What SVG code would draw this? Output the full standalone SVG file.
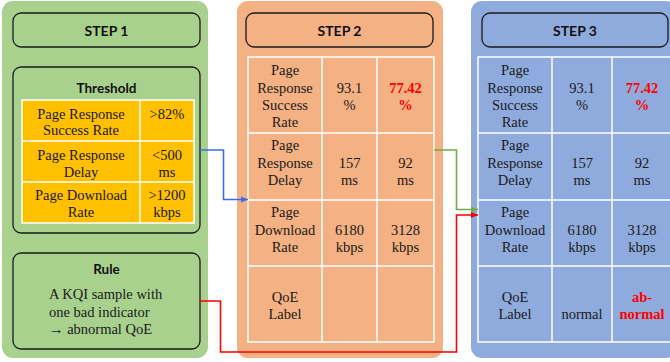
<svg xmlns="http://www.w3.org/2000/svg" width="670" height="362" viewBox="0 0 670 362">
  <defs>
    <style>
      .box { fill: none; stroke: #1a1a1a; stroke-width: 1.3; }
      .grid { fill: none; stroke: #ffffff; stroke-width: 1.5; }
      .head { font-family: Lato, 'Open Sans', sans-serif; font-weight: bold; font-size: 14px; fill: #111; text-anchor: middle; }
      .t { font-family: 'Liberation Serif', 'DejaVu Serif', serif; font-size: 14.5px; fill: #1a1a1a; text-anchor: middle; }
      .tl { font-family: 'Liberation Serif', 'DejaVu Serif', serif; font-size: 14.5px; fill: #1a1a1a; }
      .bad { fill: #ff0000; font-weight: bold; }
      .conn { fill: none; stroke-width: 1.6; }
    </style>
    <marker id="arrBlue" markerWidth="8" markerHeight="8" refX="7" refY="4" orient="auto" markerUnits="userSpaceOnUse">
      <path d="M0,1 L7,4 L0,7 Z" fill="#3d6bf0"/>
    </marker>
    <marker id="arrGreen" markerWidth="8" markerHeight="8" refX="7" refY="4" orient="auto" markerUnits="userSpaceOnUse">
      <path d="M0,1 L7,4 L0,7 Z" fill="#70ad47"/>
    </marker>
    <marker id="arrRed" markerWidth="8" markerHeight="8" refX="7" refY="4" orient="auto" markerUnits="userSpaceOnUse">
      <path d="M0,1 L7,4 L0,7 Z" fill="#ff0000"/>
    </marker>
  </defs>

  <!-- Step 1: thresholds and rule -->
  <g id="step1">
    <rect x="2" y="1" width="206" height="357" rx="11" fill="#a9d18e"/>
    <rect class="box" x="13" y="13" width="187" height="34" rx="8"/>
    <text class="head" x="106.5" y="36">STEP 1</text>
  </g>

  <g id="threshold">
    <rect class="box" x="13" y="67" width="187" height="166" rx="8"/>
    <text class="head" x="106.5" y="93" style="font-size:13.5px">Threshold</text>
    <rect x="22" y="100" width="172" height="123" fill="#ffc000"/>
    <g class="grid">
      <rect x="22" y="100" width="172" height="123"/>
      <line x1="140" y1="100" x2="140" y2="223"/>
      <line x1="22" y1="141" x2="194" y2="141"/>
      <line x1="22" y1="182" x2="194" y2="182"/>
    </g>
    <text class="t" x="81" y="119">Page Response</text>
    <text class="t" x="81" y="135">Success Rate</text>
    <text class="t" x="167" y="119">&gt;82%</text>
    <text class="t" x="81" y="160">Page Response</text>
    <text class="t" x="81" y="177">Delay</text>
    <text class="t" x="167" y="160">&lt;500</text>
    <text class="t" x="167" y="177">ms</text>
    <text class="t" x="81" y="200">Page Download</text>
    <text class="t" x="81" y="217">Rate</text>
    <text class="t" x="167" y="200">&gt;1200</text>
    <text class="t" x="167" y="217">kbps</text>
  </g>

  <g id="rule">
    <rect class="box" x="13" y="253" width="187" height="96" rx="8"/>
    <text class="head" x="106.5" y="274" style="font-size:13.5px">Rule</text>
    <text class="tl" x="49" y="299">A KQI sample with</text>
    <text class="tl" x="49" y="317">one bad indicator</text>
    <text class="tl" x="49" y="334">→ abnormal QoE</text>
  </g>

  <!-- Step 2: measured KQI sample -->
  <g id="step2">
    <rect x="237" y="1" width="206" height="357" rx="11" fill="#f4b183"/>
    <rect class="box" x="246" y="13" width="187" height="34" rx="8"/>
    <text class="head" x="339.5" y="36">STEP 2</text>
    <g class="grid">
      <rect x="248" y="57" width="186" height="285"/>
      <line x1="322" y1="57" x2="322" y2="342"/>
      <line x1="377" y1="57" x2="377" y2="342"/>
      <line x1="248" y1="133" x2="434" y2="133"/>
      <line x1="248" y1="200" x2="434" y2="200"/>
      <line x1="248" y1="266" x2="434" y2="266"/>
    </g>
    <text class="t" x="285" y="75">Page</text>
    <text class="t" x="285" y="92.5">Response</text>
    <text class="t" x="285" y="110">Success</text>
    <text class="t" x="285" y="127">Rate</text>
    <text class="t" x="349.5" y="92.5">93.1</text>
    <text class="t" x="349.5" y="110">%</text>
    <text class="t bad" x="405.5" y="92.5">77.42</text>
    <text class="t bad" x="405.5" y="110">%</text>
    <text class="t" x="285" y="150">Page</text>
    <text class="t" x="285" y="167.5">Response</text>
    <text class="t" x="285" y="185">Delay</text>
    <text class="t" x="349.5" y="167.5">157</text>
    <text class="t" x="349.5" y="185">ms</text>
    <text class="t" x="405.5" y="167.5">92</text>
    <text class="t" x="405.5" y="185">ms</text>
    <text class="t" x="285" y="217">Page</text>
    <text class="t" x="285" y="235">Download</text>
    <text class="t" x="285" y="252">Rate</text>
    <text class="t" x="349.5" y="235">6180</text>
    <text class="t" x="349.5" y="252">kbps</text>
    <text class="t" x="405.5" y="235">3128</text>
    <text class="t" x="405.5" y="252">kbps</text>
    <text class="t" x="285" y="302">QoE</text>
    <text class="t" x="285" y="318.5">Label</text>
  </g>

  <!-- Step 3: labelled samples -->
  <g id="step3">
    <rect x="471" y="1" width="206" height="357" rx="11" fill="#8faadc"/>
    <rect class="box" x="482" y="13" width="186" height="34" rx="8"/>
    <text class="head" x="575" y="36">STEP 3</text>
    <g class="grid">
      <rect x="478" y="57" width="194" height="285"/>
      <line x1="552" y1="57" x2="552" y2="342"/>
      <line x1="612" y1="57" x2="612" y2="342"/>
      <line x1="478" y1="133" x2="672" y2="133"/>
      <line x1="478" y1="200" x2="672" y2="200"/>
      <line x1="478" y1="266" x2="672" y2="266"/>
    </g>
    <text class="t" x="515" y="75">Page</text>
    <text class="t" x="515" y="92.5">Response</text>
    <text class="t" x="515" y="110">Success</text>
    <text class="t" x="515" y="127">Rate</text>
    <text class="t" x="582" y="92.5">93.1</text>
    <text class="t" x="582" y="110">%</text>
    <text class="t bad" x="642" y="92.5">77.42</text>
    <text class="t bad" x="642" y="110">%</text>
    <text class="t" x="515" y="150">Page</text>
    <text class="t" x="515" y="167.5">Response</text>
    <text class="t" x="515" y="185">Delay</text>
    <text class="t" x="582" y="167.5">157</text>
    <text class="t" x="582" y="185">ms</text>
    <text class="t" x="642" y="167.5">92</text>
    <text class="t" x="642" y="185">ms</text>
    <text class="t" x="515" y="217">Page</text>
    <text class="t" x="515" y="235">Download</text>
    <text class="t" x="515" y="252">Rate</text>
    <text class="t" x="582" y="235">6180</text>
    <text class="t" x="582" y="252">kbps</text>
    <text class="t" x="642" y="235">3128</text>
    <text class="t" x="642" y="252">kbps</text>
    <text class="t" x="515" y="302">QoE</text>
    <text class="t" x="515" y="318.5">Label</text>
    <text class="t" x="582" y="318.5">normal</text>
    <text class="t bad" x="642" y="302">ab-</text>
    <text class="t bad" x="642" y="318.5">normal</text>
  </g>

  <!-- Connectors -->
  <g id="connectors">
    <polyline class="conn" stroke="#3d6bf0" points="200,150 223.5,150 223.5,199.5 248,199.5" marker-end="url(#arrBlue)"/>
    <polyline class="conn" stroke="#70ad47" points="434,150 456.5,150 456.5,209.5 478,209.5" marker-end="url(#arrGreen)"/>
    <polyline class="conn" stroke="#ff0000" stroke-width="2" points="200,301 220.5,301 220.5,352 456.5,352 456.5,215 478,215" marker-end="url(#arrRed)"/>
  </g>
</svg>
